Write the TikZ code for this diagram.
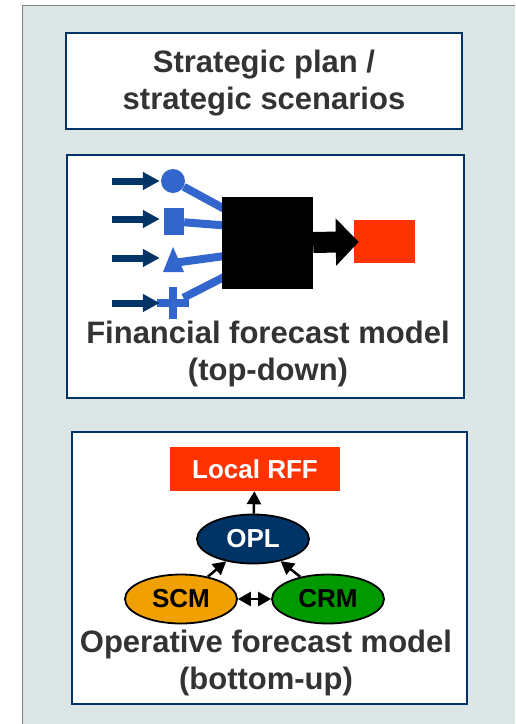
\documentclass[tikz,border=0pt]{standalone}
\usepackage{fontspec}
\setmainfont{Liberation Sans}
\usetikzlibrary{arrows.meta,shapes.geometric,shapes.misc}

\definecolor{navy}{HTML}{003366}
\definecolor{blueish}{HTML}{3366CC}
\definecolor{redbox}{HTML}{FF3300}
\definecolor{scmorange}{HTML}{F0A000}
\definecolor{crmgreen}{HTML}{009900}
\definecolor{panel}{HTML}{DCE6E4}
\definecolor{textgray}{HTML}{333333}

\begin{document}
\begin{tikzpicture}[x=1pt, y=-1pt,
    frame/.style={draw=navy, line width=2pt, fill=white, inner sep=0pt},
    heading/.style={text=textgray, font=\fontsize{31}{37.5}\selectfont\bfseries, align=center},
    feed/.style={navy, line width=7pt, -{Triangle[length=17pt,width=17pt]}, shorten >=4pt},
    spoke/.style={blueish, line width=8pt},
    inshape/.style={fill=blueish, inner sep=0pt},
    oval/.style={ellipse, draw=black, line width=1.8pt, minimum width=112pt, minimum height=49pt, inner sep=0pt, font=\fontsize{26}{30}\selectfont\bfseries},
    link/.style={line width=2.5pt, -{Triangle[length=13pt,width=14pt]}}
    ]
    \useasboundingbox (0,0) rectangle (515,724);
    \fill[panel] (22,5) rectangle (515,724);
    \draw[gray, line width=1pt] (22,724) -- (22,5) -- (515,5);

    % strategic level
    \node [frame, minimum width=396pt, minimum height=96pt] (strat) at (264,81) {};
    \node [heading] (stratlbl) at (264,83) {Strategic plan /\\strategic scenarios};

    % financial forecast (top-down)
    \node [frame, minimum width=397pt, minimum height=243pt] (fin) at (265.5,276.5) {};
    \node [heading] (finlbl) at (268,354) {Financial forecast model\\(top-down)};

    \node [inshape, circle, minimum size=24pt] (circ) at (173,181) {};
    \node [inshape, minimum width=20pt, minimum height=27pt] (sq) at (174,221.5) {};
    % triangle drawn as a plain path
    \fill [blueish] (173,247) -- (184,272) -- (163,272) -- cycle;
    \coordinate (tri) at (173,263);
    \node [cross out, draw=blueish, line width=8pt, rotate=45, minimum size=14pt, inner sep=0pt] (crs) at (173,303) {};

    \coordinate (in1) at (112,181);
    \coordinate (in2) at (112,219);
    \coordinate (in3) at (112,258);
    \coordinate (in4) at (112,303);
    \draw [feed] (in1) -- (in1 -| sq.west);
    \draw [feed] (in2) -- (in2 -| sq.west);
    \draw [feed] (in3) -- (in3 -| sq.west);
    \draw [feed] (in4) -- (in4 -| sq.west);

    \coordinate (j1) at (232,213);
    \coordinate (j2) at (232,226);
    \coordinate (j3) at (232,255);
    \coordinate (j4) at (232,273);
    \draw [spoke] (circ) -- (j1);
    \draw [spoke] (sq) -- (j2);
    \draw [spoke] (tri) -- (j3);
    \draw [spoke] (crs) -- (j4);

    \node [fill=black, minimum width=91pt, minimum height=92pt, inner sep=0pt] (blk) at (267.5,243) {};
    \node [fill=redbox, minimum width=61pt, minimum height=43pt, inner sep=0pt] (res) at (384.5,241.5) {};
    \draw [line width=21pt, -{Triangle[length=23pt,width=46pt]}, shorten >=-5pt] (blk) -- (res);

    % operative forecast (bottom-up)
    \node [frame, minimum width=395pt, minimum height=272pt] (oper) at (269.5,568) {};
    \node [heading] (operlbl) at (266,663) {Operative forecast model\\(bottom-up)};

    \node [fill=redbox, text=white, minimum width=170pt, minimum height=44pt, inner sep=0pt, font=\fontsize{26}{30}\selectfont\bfseries] (rff) at (255,469) {Local RFF};
    \node [oval, fill=navy, text=white] (opl) at (253,539) {OPL};
    \node [oval, fill=scmorange] (scm) at (181,599) {SCM};
    \node [oval, fill=crmgreen] (crm) at (328,599) {CRM};

    \draw [link] (opl) -- (rff);
    \draw [link] (scm) -- (opl);
    \draw [link] (crm) -- (opl);
    \draw [link, {Triangle[length=13pt,width=14pt]}-{Triangle[length=13pt,width=14pt]}] (scm) -- (crm);
\end{tikzpicture}
\end{document}
